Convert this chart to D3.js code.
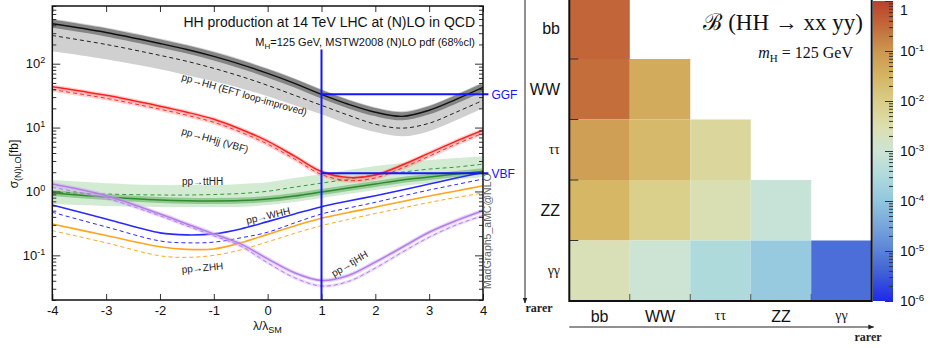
<!DOCTYPE html>
<html>
<head>
<meta charset="utf-8">
<script src="https://cdn.jsdelivr.net/npm/d3@7"></script>
<style>
  body { margin: 0; background: #fff; }
  svg { display: block; }
  text { font-family: "Liberation Sans", Arial, sans-serif; }
  .serif { font-family: "Liberation Serif", "DejaVu Serif", serif; }
</style>
</head>
<body>
<svg id="chart" width="930" height="348"></svg>
<script>
// ---- left panel data: cross sections [fb] vs lambda/lambda_SM ----
const lambdas = [-4, -3, -2, -1.5, -1, -0.5, 0, 0.5, 1, 1.5, 2, 2.5, 3, 3.5, 4];

const ggfNLO = [421, 308, 207, 167, 130, 97.5, 70.6, 49.3, 33.2, 23.2, 17.4, 15.0, 18.7, 27.7, 42.7];
const ggfLO = [276, 200, 135, 109, 84.5, 63.4, 45.8, 32.0, 22.3, 15.6, 11.3, 9.8, 11.7, 17.4, 26.7];
const ggfBandHi = [504, 369, 248, 200, 156, 117, 84.5, 59.0, 39.7, 27.7, 20.8, 18.0, 22.3, 33.2, 51.1];
const ggfBandLo = [156, 117, 81.5, 65.7, 52.9, 41.2, 30.9, 22.3, 16.2, 11.3, 8.5, 7.3, 8.8, 13.0, 20.1];

const vbfNLO = [43.7, 32.0, 21.6, 17.4, 13.5, 9.43, 6.13, 3.57, 2.05, 1.65, 1.81, 2.59, 3.98, 6.13, 9.10];
const vbfLO = [39.2, 28.7, 19.4, 15.6, 12.1, 8.47, 5.50, 3.21, 1.84, 1.48, 1.63, 2.33, 3.57, 5.50, 8.17];

const tthhNLO = [0.946, 0.819, 0.735, 0.715, 0.71, 0.72, 0.76, 0.849, 0.98, 1.13, 1.31, 1.51, 1.68, 1.87, 2.08];
const tthhLO = [0.98, 0.912, 0.88, 0.88, 0.896, 0.93, 1.008, 1.17, 1.35, 1.56, 1.81, 2.01, 2.24, 2.41, 2.68];
const tthhBandHi = [1.51, 1.35, 1.26, 1.26, 1.26, 1.31, 1.40, 1.62, 1.87, 2.16, 2.50, 2.78, 3.10, 3.33, 3.57];
const tthhBandLo = [0.637, 0.593, 0.572, 0.572, 0.572, 0.572, 0.614, 0.684, 0.79, 0.912, 1.05, 1.22, 1.35, 1.51, 1.68];

const whhNLO = [0.614, 0.371, 0.2245, 0.209, 0.217, 0.259, 0.337, 0.444, 0.578, 0.709, 0.858, 1.053, 1.306, 1.621, 1.99];
const whhLO = [0.472, 0.279, 0.168, 0.157, 0.161, 0.188, 0.23, 0.322, 0.444, 0.551, 0.677, 0.849, 1.053, 1.283, 1.564];

const zhhNLO = [0.31, 0.204, 0.136, 0.124, 0.126, 0.157, 0.213, 0.289, 0.381, 0.469, 0.566, 0.697, 0.849, 1.016, 1.229];
const zhhLO = [0.244, 0.157, 0.0983, 0.0931, 0.1, 0.122, 0.163, 0.221, 0.292, 0.365, 0.452, 0.551, 0.672, 0.804, 0.946];

const tjhhNLO = [1.306, 0.858, 0.444, 0.31, 0.217, 0.151, 0.0882, 0.0533, 0.0404, 0.0484, 0.0783, 0.134, 0.23, 0.349, 0.5];
const tjhhLO = [1.16, 0.781, 0.414, 0.289, 0.202, 0.139, 0.0764, 0.0446, 0.0331, 0.039, 0.0632, 0.112, 0.192, 0.299, 0.418];

// SM reference point (lambda = 1) and the GGF / VBF markers
const refLambda = 1;
const refLineEnd = 4.1;
const refTop = 167;
const ggfRef = 33.2;
const vbfRef = 1.93;

// ---- right panel data: B(HH -> xx yy) ----
const decays = ['bb', 'WW', 'ττ', 'ZZ', 'γγ'];
const brMatrix = [
  [0.34],
  [0.28, 0.045],
  [0.07, 0.025, 0.0056],
  [0.028, 0.0089, 0.0028, 0.00079],
  [0.0025, 0.001, 0.00032, 0.000126, 0.0000056]
];
const cbLogs = [0, -0.5, -1, -1.5, -2, -2.5, -3, -3.5, -4, -4.5, -5, -5.5, -6];
const cbColors = ['#b9412a', '#c3693a', '#cd9650', '#d5b462', '#dacd87', '#dcdeaf', '#cde4d4', '#afdadc', '#91c6de', '#78a5dc', '#5a82d7', '#3c5ad9', '#1e28eb'];
const cbTicks = [1, 1e-1, 1e-2, 1e-3, 1e-4, 1e-5, 1e-6];

const svg = d3.select('#chart');
const defs = svg.append('defs');

// ================= left panel =================
const x = d3.scaleLinear().domain([-4, 4]).range([52.3, 483]);
const y = d3.scaleLog().domain([0.02, 800]).range([300, 6]);

defs.append('clipPath').attr('id', 'clipL')
  .append('rect')
  .attr('x', x.range()[0]).attr('y', y.range()[1])
  .attr('width', x.range()[1] - x.range()[0])
  .attr('height', y.range()[0] - y.range()[1]);

const plot = svg.append('g').attr('clip-path', 'url(#clipL)');
const curve = d3.curveCatmullRom.alpha(0.5);

const line = d3.line()
  .x((d, i) => x(lambdas[i]))
  .y(d => y(d))
  .curve(curve);

const band = d3.area()
  .x((d, i) => x(lambdas[i]))
  .y0(d => y(d[0]))
  .y1(d => y(d[1]))
  .curve(curve);

function drawLine(values, color, width, dash) {
  plot.append('path')
    .attr('d', line(values))
    .attr('fill', 'none')
    .attr('stroke', color)
    .attr('stroke-width', width)
    .attr('stroke-dasharray', dash || null);
}

// GGF
plot.append('path').attr('d', band(d3.zip(ggfBandLo, ggfBandHi))).attr('fill', '#d0d0d0');
drawLine(ggfNLO, '#858585', 8);
drawLine(ggfLO, '#222', 1, '4,3');
drawLine(ggfNLO, '#111', 1.4);

// ttHH
plot.append('path').attr('d', band(d3.zip(tthhBandLo, tthhBandHi))).attr('fill', 'rgba(120,195,120,0.33)');
drawLine(tthhNLO, 'rgba(70,160,70,0.45)', 6);
drawLine(tthhLO, '#3c963c', 1, '4,3');
drawLine(tthhNLO, '#2e8b2e', 1.5);

// VBF
drawLine(vbfLO, 'rgba(255,120,120,0.35)', 4);
drawLine(vbfNLO, 'rgba(255,120,120,0.35)', 4);
drawLine(vbfLO, '#ff2a2a', 1, '4,3');
drawLine(vbfNLO, '#ff1f1f', 1.5);

// WHH and ZHH
drawLine(whhLO, '#2a2aff', 1, '4,3');
drawLine(whhNLO, '#2a2aff', 1.6);
drawLine(zhhLO, '#ffa520', 1, '4,3');
drawLine(zhhNLO, '#ffa520', 1.6);

// tjHH
drawLine(tjhhLO, 'rgba(205,170,245,0.4)', 3);
drawLine(tjhhNLO, 'rgba(205,170,245,0.5)', 4);
drawLine(tjhhLO, '#b47ee6', 1, '4,3');
drawLine(tjhhNLO, '#b47ee6', 1.5);

// SM markers
const refG = svg.append('g').attr('stroke', '#1414ff').attr('stroke-width', 2);
refG.append('line')
  .attr('x1', x(refLambda)).attr('x2', x(refLambda))
  .attr('y1', y(refTop)).attr('y2', y.range()[0]);
[ggfRef, vbfRef].forEach(v => {
  refG.append('line')
    .attr('x1', x(refLambda)).attr('x2', x(refLineEnd))
    .attr('y1', y(v)).attr('y2', y(v));
});
svg.selectAll('.refLabel')
  .data([['GGF', ggfRef], ['VBF', vbfRef]])
  .enter().append('text')
  .attr('x', x(refLineEnd) + 3)
  .attr('y', d => y(d[1]) + 4.5)
  .attr('fill', '#1414ff')
  .attr('font-size', 12)
  .text(d => d[0]);

// axes
function supFormat(sel) {
  sel.selectAll('.tick text').each(function (d) {
    const t = d3.select(this);
    const e = Math.round(Math.log10(d));
    t.text('10');
    t.append('tspan').attr('dy', '-0.55em').attr('font-size', '0.7em').text(e < 0 ? '-' + (-e) : e);
  });
}

const yMajor = [0.1, 1, 10, 100];
const yMinor = y.ticks().filter(v => !yMajor.some(m => Math.abs(m - v) < 1e-9));

const axL = svg.append('g').attr('transform', `translate(${x.range()[0]},0)`)
  .call(d3.axisLeft(y).tickValues(yMajor).tickSize(-8).tickPadding(7));
axL.call(supFormat);
svg.append('g').attr('transform', `translate(${x.range()[0]},0)`)
  .call(d3.axisLeft(y).tickValues(yMinor).tickSize(-4).tickFormat(''));
svg.append('g').attr('transform', `translate(${x.range()[1]},0)`)
  .call(d3.axisRight(y).tickValues(yMajor).tickSize(-8).tickFormat(''));
svg.append('g').attr('transform', `translate(${x.range()[1]},0)`)
  .call(d3.axisRight(y).tickValues(yMinor).tickSize(-4).tickFormat(''));
svg.append('g').attr('transform', `translate(0,${y.range()[0]})`)
  .call(d3.axisBottom(x).ticks(8).tickSize(-6).tickPadding(6).tickFormat(d => String(d)));
svg.append('g').attr('transform', `translate(0,${y.range()[1]})`)
  .call(d3.axisTop(x).ticks(8).tickSize(-6).tickFormat(''));

svg.selectAll('.domain').remove();
svg.selectAll('.tick line').attr('stroke', '#222');
svg.selectAll('.tick text').attr('font-size', 13).attr('fill', '#111');

svg.append('rect')
  .attr('x', x.range()[0]).attr('y', y.range()[1])
  .attr('width', x.range()[1] - x.range()[0])
  .attr('height', y.range()[0] - y.range()[1])
  .attr('fill', 'none').attr('stroke', '#111').attr('stroke-width', 1.5);

// titles and labels
svg.append('text').attr('x', 475).attr('y', 27).attr('text-anchor', 'end')
  .attr('font-size', 14).attr('fill', '#111')
  .text('HH production at 14 TeV LHC at (N)LO in QCD');
const sub = svg.append('text').attr('x', 475).attr('y', 46).attr('text-anchor', 'end')
  .attr('font-size', 11).attr('fill', '#111');
sub.append('tspan').text('M');
sub.append('tspan').attr('dy', 3).attr('font-size', 8).text('H');
sub.append('tspan').attr('dy', -3).text('=125 GeV, MSTW2008 (N)LO pdf (68%cl)');

const yl = svg.append('text').attr('transform', 'translate(18,164) rotate(-90)')
  .attr('text-anchor', 'middle').attr('font-size', 12).attr('fill', '#111');
yl.append('tspan').text('σ');
yl.append('tspan').attr('dy', 3).attr('font-size', 9).text('(N)LO');
yl.append('tspan').attr('dy', -3).text('[fb]');

const xl = svg.append('text').attr('x', 253).attr('y', 330)
  .attr('font-size', 12).attr('fill', '#111');
xl.append('tspan').text('λ/λ');
xl.append('tspan').attr('dy', 3).attr('font-size', 9).text('SM');

const curveLabels = [
  ['pp→HH (EFT loop-improved)', 181, 80, 16],
  ['pp→HHjj (VBF)', 181, 134, 16],
  ['pp→ttHH', 182, 185, 0],
  ['pp→WHH', 247, 224, -13],
  ['pp→ZHH', 182, 273, -5],
  ['pp→tjHH', 334, 277, -31]
];
svg.selectAll('.curveLabel')
  .data(curveLabels)
  .enter().append('text')
  .attr('transform', d => `translate(${d[1]},${d[2]}) rotate(${d[3]})`)
  .attr('font-size', 10)
  .attr('fill', '#222')
  .text(d => d[0]);

svg.append('text').attr('transform', 'translate(491,289) rotate(-90)')
  .attr('font-size', 10.5).attr('fill', '#666')
  .text('MadGraph5_aMC@NLO');

// ================= right panel =================
const hx = d3.scaleBand().domain(decays).range([569.3, 871.7]);
const hy = d3.scaleBand().domain(decays).range([-1.5, 301]);
const colorScale = d3.scaleLinear().domain(cbLogs).range(cbColors).interpolate(d3.interpolateRgb);
const color = v => colorScale(Math.log10(v));
const greek = new Set(['ττ', 'γγ']);

const cells = brMatrix.flatMap((row, i) => row.map((v, j) => ({row: decays[i], col: decays[j], v})));
svg.append('g').selectAll('rect')
  .data(cells)
  .enter().append('rect')
  .attr('x', d => hx(d.col))
  .attr('y', d => hy(d.row))
  .attr('width', hx.bandwidth())
  .attr('height', hy.bandwidth())
  .attr('fill', d => color(d.v));

// inner ticks at row / column boundaries
svg.append('g').selectAll('line')
  .data(decays.slice(1))
  .enter().append('line')
  .attr('x1', hx.range()[0]).attr('x2', hx.range()[0] + 9)
  .attr('y1', d => hy(d)).attr('y2', d => hy(d))
  .attr('stroke', '#333').attr('stroke-width', 1);
svg.append('g').selectAll('line')
  .data(decays.slice(1))
  .enter().append('line')
  .attr('x1', d => hx(d)).attr('x2', d => hx(d))
  .attr('y1', hy.range()[1]).attr('y2', hy.range()[1] - 7)
  .attr('stroke', '#555').attr('stroke-width', 1);

svg.append('rect')
  .attr('x', hx.range()[0]).attr('y', hy.range()[0])
  .attr('width', hx.range()[1] - hx.range()[0])
  .attr('height', hy.range()[1] - hy.range()[0])
  .attr('fill', 'none').attr('stroke', '#111').attr('stroke-width', 2);

// category labels
svg.selectAll('.rowLabel')
  .data(decays)
  .enter().append('text')
  .attr('class', d => greek.has(d) ? 'serif' : null)
  .attr('x', 560)
  .attr('y', d => hy(d) + hy.bandwidth() / 2 + (greek.has(d) ? 4.5 : 5.5))
  .attr('text-anchor', 'end')
  .attr('font-size', d => greek.has(d) ? 14 : 16)
  .attr('fill', '#111')
  .text(d => d);
svg.selectAll('.colLabel')
  .data(decays)
  .enter().append('text')
  .attr('class', d => greek.has(d) ? 'serif' : null)
  .attr('x', d => hx(d) + hx.bandwidth() / 2)
  .attr('y', d => greek.has(d) ? 320 : 322)
  .attr('text-anchor', 'middle')
  .attr('font-size', d => greek.has(d) ? 14 : 16)
  .attr('fill', '#111')
  .text(d => d);

// "rarer" arrows
defs.append('marker').attr('id', 'arrow')
  .attr('viewBox', '0 0 10 10').attr('refX', 9).attr('refY', 5)
  .attr('markerWidth', 6).attr('markerHeight', 6).attr('orient', 'auto')
  .append('path').attr('d', 'M0,1L10,5L0,9z').attr('fill', '#222');
svg.append('line').attr('x1', 525).attr('x2', 525).attr('y1', 0).attr('y2', 303)
  .attr('stroke', '#222').attr('stroke-width', 1).attr('marker-end', 'url(#arrow)');
svg.append('line').attr('x1', hx.range()[0]).attr('x2', hx.range()[1] + 2).attr('y1', 327).attr('y2', 327)
  .attr('stroke', '#222').attr('stroke-width', 1).attr('marker-end', 'url(#arrow)');
svg.append('text').attr('class', 'serif').attr('x', 539).attr('y', 312)
  .attr('text-anchor', 'middle').attr('font-size', 12).attr('font-weight', 'bold').attr('fill', '#222').text('rarer');
svg.append('text').attr('class', 'serif').attr('x', 868).attr('y', 341)
  .attr('text-anchor', 'middle').attr('font-size', 12).attr('font-weight', 'bold').attr('fill', '#222').text('rarer');

// title
svg.append('text').attr('class', 'serif').attr('x', 863).attr('y', 30)
  .attr('text-anchor', 'end').attr('font-size', 23).attr('fill', '#111')
  .text('ℬ (HH → xx yy)');
const mh = svg.append('text').attr('class', 'serif').attr('x', 853).attr('y', 58)
  .attr('text-anchor', 'end').attr('font-size', 16).attr('fill', '#111');
mh.append('tspan').attr('font-style', 'italic').text('m');
mh.append('tspan').attr('dy', 4).attr('font-size', 11).text('H');
mh.append('tspan').attr('dy', -4).text(' = 125 GeV');

// colour bar
const cb = d3.scaleLog().domain([1e-6, 1]).range([301, 1]);
const cbX = [873, 893];
const grad = defs.append('linearGradient').attr('id', 'cbGrad')
  .attr('x1', 0).attr('y1', 0).attr('x2', 0).attr('y2', 1);
grad.selectAll('stop')
  .data(cbLogs)
  .enter().append('stop')
  .attr('offset', d => (cb(Math.pow(10, d)) - cb.range()[1]) / (cb.range()[0] - cb.range()[1]))
  .attr('stop-color', d => colorScale(d));
svg.append('rect')
  .attr('x', cbX[0]).attr('y', cb.range()[1])
  .attr('width', cbX[1] - cbX[0]).attr('height', cb.range()[0] - cb.range()[1])
  .attr('fill', 'url(#cbGrad)');

const cbMinor = cb.ticks().filter(v => !cbTicks.some(m => Math.abs(Math.log10(m) - Math.log10(v)) < 1e-6));
const cbAx = svg.append('g').attr('transform', `translate(${cbX[1]},0)`)
  .call(d3.axisRight(cb).tickValues(cbTicks).tickSize(-8).tickPadding(7));
cbAx.selectAll('.tick text').each(function (d) {
  const t = d3.select(this);
  const e = Math.round(Math.log10(d));
  if (e === 0) { t.text('1').attr('dy', '0.95em'); return; }
  t.text('10');
  t.append('tspan').attr('dy', '-0.55em').attr('font-size', '0.7em').text('-' + (-e));
});
cbAx.selectAll('.tick text').attr('font-size', 14).attr('fill', '#111');
svg.append('g').attr('transform', `translate(${cbX[1]},0)`)
  .call(d3.axisRight(cb).tickValues(cbMinor).tickSize(-4).tickFormat(''));
svg.selectAll('.domain').remove();
svg.selectAll('.tick line').attr('stroke', '#333');
</script>
</body>
</html>
